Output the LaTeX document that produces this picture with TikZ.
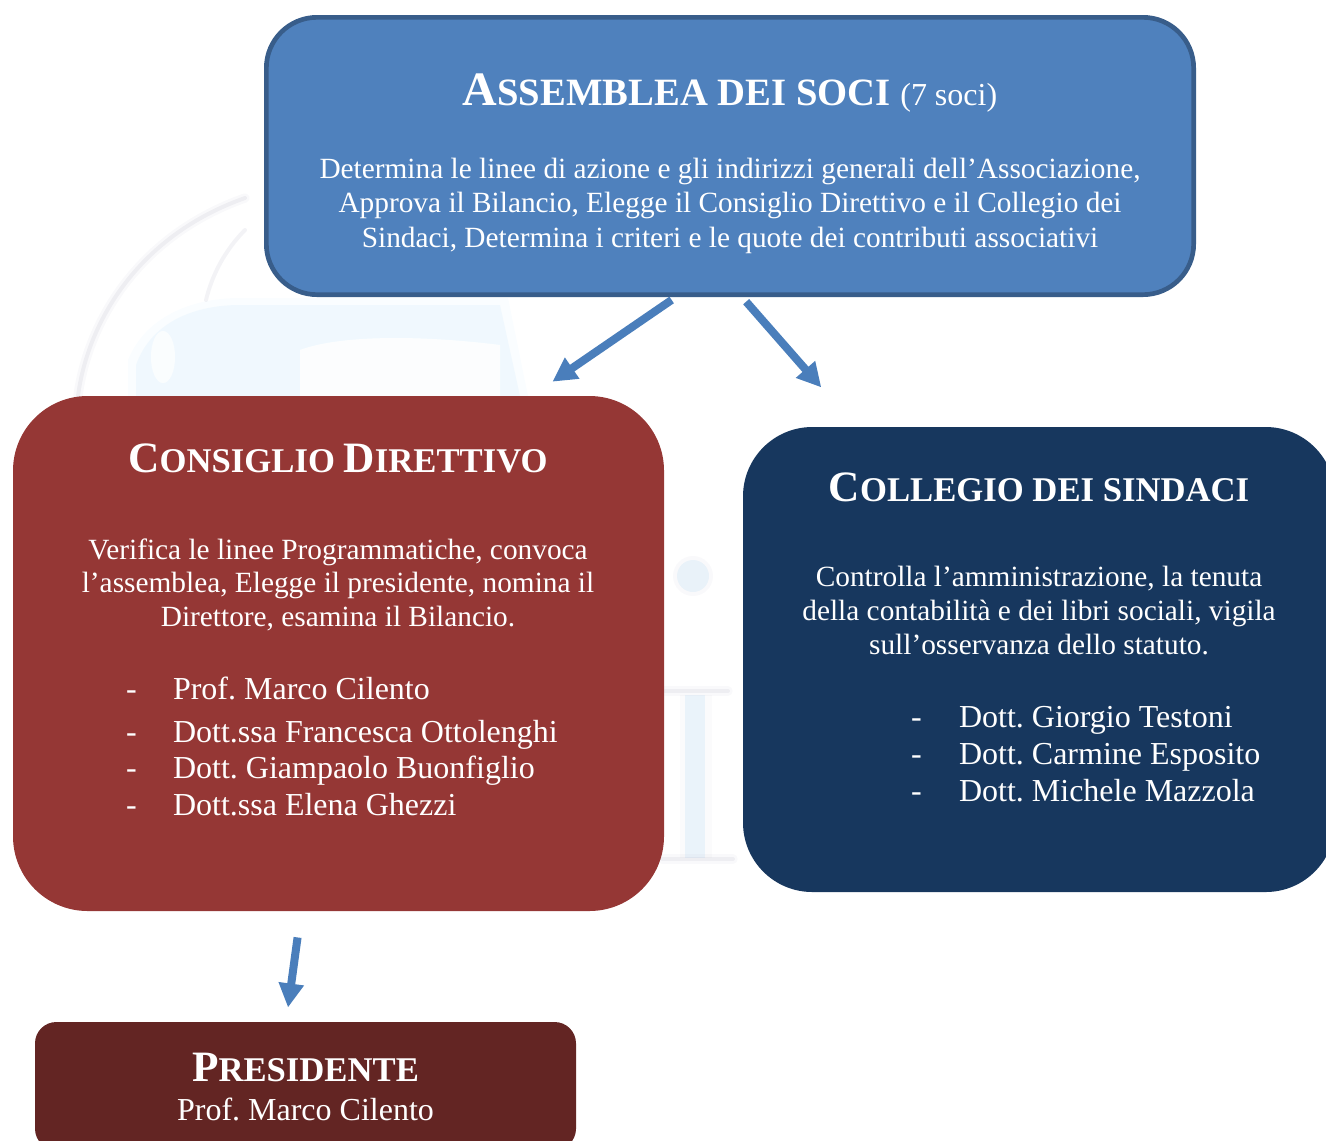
\documentclass[tikz,border=0pt]{standalone}
\usepackage{fontspec}
\setmainfont{Liberation Serif}
\usetikzlibrary{arrows.meta}
\newcommand{\capL}[1]{{\fontsize{32.5}{32.5}\selectfont #1}}
\newcommand{\capXL}[1]{{\fontsize{36}{36}\selectfont #1}}
\tikzset{
  x=0.75pt,y=-0.75pt,
  boxnode/.style={draw=none,inner sep=0pt,outer sep=0pt,rectangle},
  ln/.style={inner sep=0pt,outer sep=0pt,text=white,anchor=base,font=\fontsize{22}{22}\selectfont},
  item/.style={inner sep=0pt,outer sep=0pt,text=white,anchor=base west,font=\fontsize{24}{24}\selectfont},
  ttl/.style={inner sep=0pt,outer sep=0pt,text=white,anchor=base,font=\bfseries\fontsize{26}{26}\selectfont},
  conn/.style={draw=arrowblue,line width=6pt,-{Triangle[length=18pt,width=18pt]}},
  wmline/.style={line width=3pt,line cap=round,opacity=0.10},
  wmhalo/.style={line width=7pt,line cap=round,opacity=0.05}
}
\definecolor{arrowblue}{HTML}{4A7EBB}
\definecolor{sociblue}{HTML}{4F81BD}
\definecolor{sociedge}{HTML}{385D8A}
\definecolor{redbox}{HTML}{953735}
\definecolor{navybox}{HTML}{17375E}
\definecolor{darkbox}{HTML}{632523}
\definecolor{wmblue}{HTML}{58B4F0}
\definecolor{wmgrey}{HTML}{8E8EA8}
\frenchspacing
\begin{document}
\begin{tikzpicture}
\useasboundingbox (0,0) rectangle (1326,1140);
\clip (0,0) rectangle (1326,1140);
% watermark
\fill[wmblue,opacity=0.06] (136,396) -- (136,365) .. controls (150,325) and (190,305) .. (240,305) -- (500,305) -- (520,396) -- cycle;
\fill[wmblue,opacity=0.03] (128,396) -- (128,360) .. controls (145,318) and (190,298) .. (240,298) -- (508,298) -- (528,396) -- cycle;
\fill[white,opacity=0.85] (300,396) -- (300,350) .. controls (340,335) and (420,335) .. (500,345) -- (500,396) -- cycle;
\fill[white,opacity=0.7] (163,357) ellipse (12 and 26);
\draw[wmgrey,wmline] (78,396) .. controls (88,320) and (140,235) .. (245,198);
\draw[wmgrey,wmhalo] (78,396) .. controls (88,320) and (140,235) .. (245,198);
\draw[wmgrey,wmline] (206,300) .. controls (212,275) and (225,250) .. (245,230);
\fill[wmblue,opacity=0.10] (693,576) circle (16);
\fill[wmgrey,opacity=0.05] (693,576) circle (20);
\fill[wmblue,opacity=0.10] (685,695) rectangle (705,858);
\fill[wmgrey,opacity=0.04] (680,695) rectangle (712,858);
\draw[wmgrey,wmline] (665,691) -- (728,691);
\draw[wmgrey,wmhalo] (665,691) -- (728,691);
\draw[wmgrey,wmline] (662,859) -- (733,859);
\draw[wmgrey,wmhalo] (662,859) -- (733,859);
% boxes
\node[boxnode,fill=sociblue,draw=sociedge,line width=3.5pt,rounded corners=38pt,minimum width=695.5pt,minimum height=208pt] (soci) at (730,156) {};
\node[boxnode,fill=redbox,rounded corners=56pt,minimum width=488.25pt,minimum height=386.25pt] (consiglio) at (338.5,653.5) {};
\node[boxnode,fill=navybox,rounded corners=52pt,minimum width=444pt,minimum height=348.75pt] (collegio) at (1039,659.5) {};
\node[boxnode,fill=darkbox,rounded corners=16pt,minimum width=405.75pt,minimum height=96pt] (presidente) at (305.5,1086) {};
% soci text
\node[ttl,font=\bfseries\fontsize{29}{29}\selectfont] (t1) at (730,105) {\capXL{A}SSEMBLEA DEI SOCI {\mdseries\fontsize{24}{24}\selectfont (7 soci)}};
\node[ln] (s1) at (730,178) {Determina le linee di azione e gli indirizzi generali dell’Associazione,};
\node[ln] (s2) at (730,212) {Approva il Bilancio, Elegge il Consiglio Direttivo e il Collegio dei};
\node[ln] (s3) at (730,247) {Sindaci, Determina i criteri e le quote dei contributi associativi};
% consiglio text
\node[ttl] (t2) at (338,472) {\capL{C}ONSIGLIO \capL{D}IRETTIVO};
\node[ln] (c1) at (338,559) {Verifica le linee Programmatiche, convoca};
\node[ln] (c2) at (338,592) {l’assemblea, Elegge il presidente, nomina il};
\node[ln] (c3) at (338,626) {Direttore, esamina il Bilancio.};
\foreach \n/\yy/\txt in {a/699/Prof. Marco Cilento,b/742/Dott.ssa Francesca Ottolenghi,c/778/Dott. Giampaolo Buonfiglio,d/815/Dott.ssa Elena Ghezzi}{
  \node[item] (cd\n) at (126,\yy) {-};
  \node[item] (cn\n) at (173,\yy) {\txt};
}
% collegio text
\node[ttl] (t3) at (1039,501) {\capL{C}OLLEGIO DEI SINDACI};
\node[ln] (k1) at (1039,586) {Controlla l’amministrazione, la tenuta};
\node[ln] (k2) at (1039,620) {della contabilità e dei libri sociali, vigila};
\node[ln] (k3) at (1039,654) {sull’osservanza dello statuto.};
\foreach \n/\yy/\txt in {a/727/Dott. Giorgio Testoni,b/764/Dott. Carmine Esposito,c/801/Dott. Michele Mazzola}{
  \node[item] (kd\n) at (911,\yy) {-};
  \node[item] (kn\n) at (959,\yy) {\txt};
}
% presidente text
\node[ttl] (t4) at (305.5,1081) {\capL{P}RESIDENTE};
\node[item,anchor=base] (p1) at (305.5,1120) {Prof. Marco Cilento};
% connectors
\draw[conn,shorten <=7pt,shorten >=19pt] ([xshift=-38pt]soci.south) -- ([xshift=144.75pt]consiglio.north);
\draw[conn,shorten <=7pt,shorten >=39.5pt] ([xshift=7.5pt]soci.south) -- ([xshift=-137.25pt]collegio.north);
\draw[conn,shorten <=20pt,shorten >=11pt] ([xshift=-28pt]consiglio.south) -- ([xshift=-14.6pt]presidente.north);
\end{tikzpicture}
\end{document}
